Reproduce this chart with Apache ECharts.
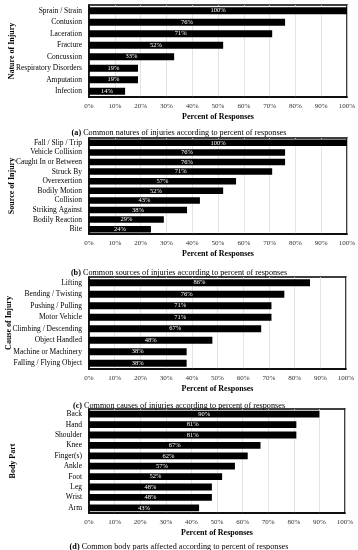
<!DOCTYPE html>
<html><head><meta charset="utf-8">
<script src="https://cdn.jsdelivr.net/npm/echarts@6/dist/echarts.min.js"></script>
<style>html,body{margin:0;padding:0;background:#fff}#c{width:358px;height:550px}</style>
</head><body><div id="c"></div>
<script>
const natureCats = ['Sprain / Strain','Contusion','Laceration','Fracture','Concussion','Respiratory Disorders','Amputation','Infection'];
const natureVals = [100,76,71,52,33,19,19,14];
const sourceCats = ['Fall / Slip / Trip','Vehicle Collision','Caught In or Between','Struck By','Overexertion','Bodily Motion','Collision','Striking Against','Bodily Reaction','Bite'];
const sourceVals = [100,76,76,71,57,52,43,38,29,24];
const causeCats = ['Lifting','Bending / Twisting','Pushing / Pulling','Motor Vehicle','Climbing / Descending','Object Handled','Machine or Machinery','Falling / Flying Object'];
const causeVals = [86,76,71,71,67,48,38,38];
const bodyCats = ['Back','Hand','Shoulder','Knee','Finger(s)','Ankle','Foot','Leg','Wrist','Arm'];
const bodyVals = [90,81,81,67,62,57,52,48,48,43];
const yTitles = ['Nature of Injury','Source of Injury','Cause of Injury','Body Part'];
const captions = [
  ['a','Common natures of injuries according to percent of responses'],
  ['b','Common sources of injuries according to percent of responses'],
  ['c','Common causes of injuries according to percent of responses'],
  ['d','Common body parts affected according to percent of responses']
];
const xTitle = 'Percent of Responses';

const F = 'Liberation Serif, DejaVu Serif, serif';
const panels = [
  {cats:natureCats, vals:natureVals, top:5, height:92, right:11, gap:'38%', cap:129, yGap:73},
  {cats:sourceCats, vals:sourceVals, top:138, height:96, right:11, gap:'32%', cap:269, yGap:73},
  {cats:causeCats, vals:causeVals, top:277, height:92, right:12, gap:'38%', cap:402, yGap:76},
  {cats:bodyCats, vals:bodyVals, top:409, height:104, right:13, gap:'35%', cap:543, yGap:72}
];
const chart = echarts.init(document.getElementById('c'), null, {renderer:'canvas'});
const grid=[], xAxis=[], yAxis=[], series=[], title=[];
panels.forEach((p,i)=>{
  grid.push({left:89, right:p.right, top:p.top, height:p.height, containLabel:false, outerBoundsMode:'none',
    show:true, borderColor:'#000', borderWidth:1.5, backgroundColor:'#fff'});
  xAxis.push({type:'value', gridIndex:i, min:0, max:100, interval:10,
    axisLabel:{formatter:'{value}%', fontFamily:F, fontSize:7, color:'#333', margin:6},
    axisLine:{show:true, lineStyle:{color:'#000', width:1.5}}, axisTick:{show:false},
    splitLine:{show:true, lineStyle:{color:'#ddd', width:0.8}},
    name:xTitle, nameLocation:'middle', nameGap:16, nameMoveOverlap:false,
    nameTextStyle:{fontFamily:F, fontSize:8, fontWeight:'bold', color:'#000'}});
  yAxis.push({type:'category', gridIndex:i, data:p.cats, inverse:true,
    axisLabel:{interval:0, fontFamily:F, fontSize:7.5, color:'#000', margin:7},
    axisLine:{show:true, lineStyle:{color:'#000', width:1.5}}, axisTick:{show:false},
    name:yTitles[i], nameLocation:'middle', nameGap:p.yGap, nameRotate:90, nameMoveOverlap:false,
    nameTextStyle:{fontFamily:F, fontSize:8, fontWeight:'bold', color:'#000'}});
  series.push({type:'bar', xAxisIndex:i, yAxisIndex:i, data:p.vals, barCategoryGap:p.gap,
    itemStyle:{color:'#000'},
    label:{show:true, position:'inside', formatter:'{c}%', color:'#fff', fontFamily:F, fontSize:6.5},
    silent:true, animation:false});
  title.push({left:'center', top:p.cap-5,
    text:'{b|('+captions[i][0]+')} '+captions[i][1],
    textStyle:{fontFamily:F, fontSize:8.2, fontWeight:'normal', color:'#000',
      rich:{b:{fontFamily:F, fontSize:8.2, fontWeight:'bold', color:'#000'}}}});
});
chart.setOption({animation:false, backgroundColor:'#fff', title, grid, xAxis, yAxis, series});
</script></body></html>
